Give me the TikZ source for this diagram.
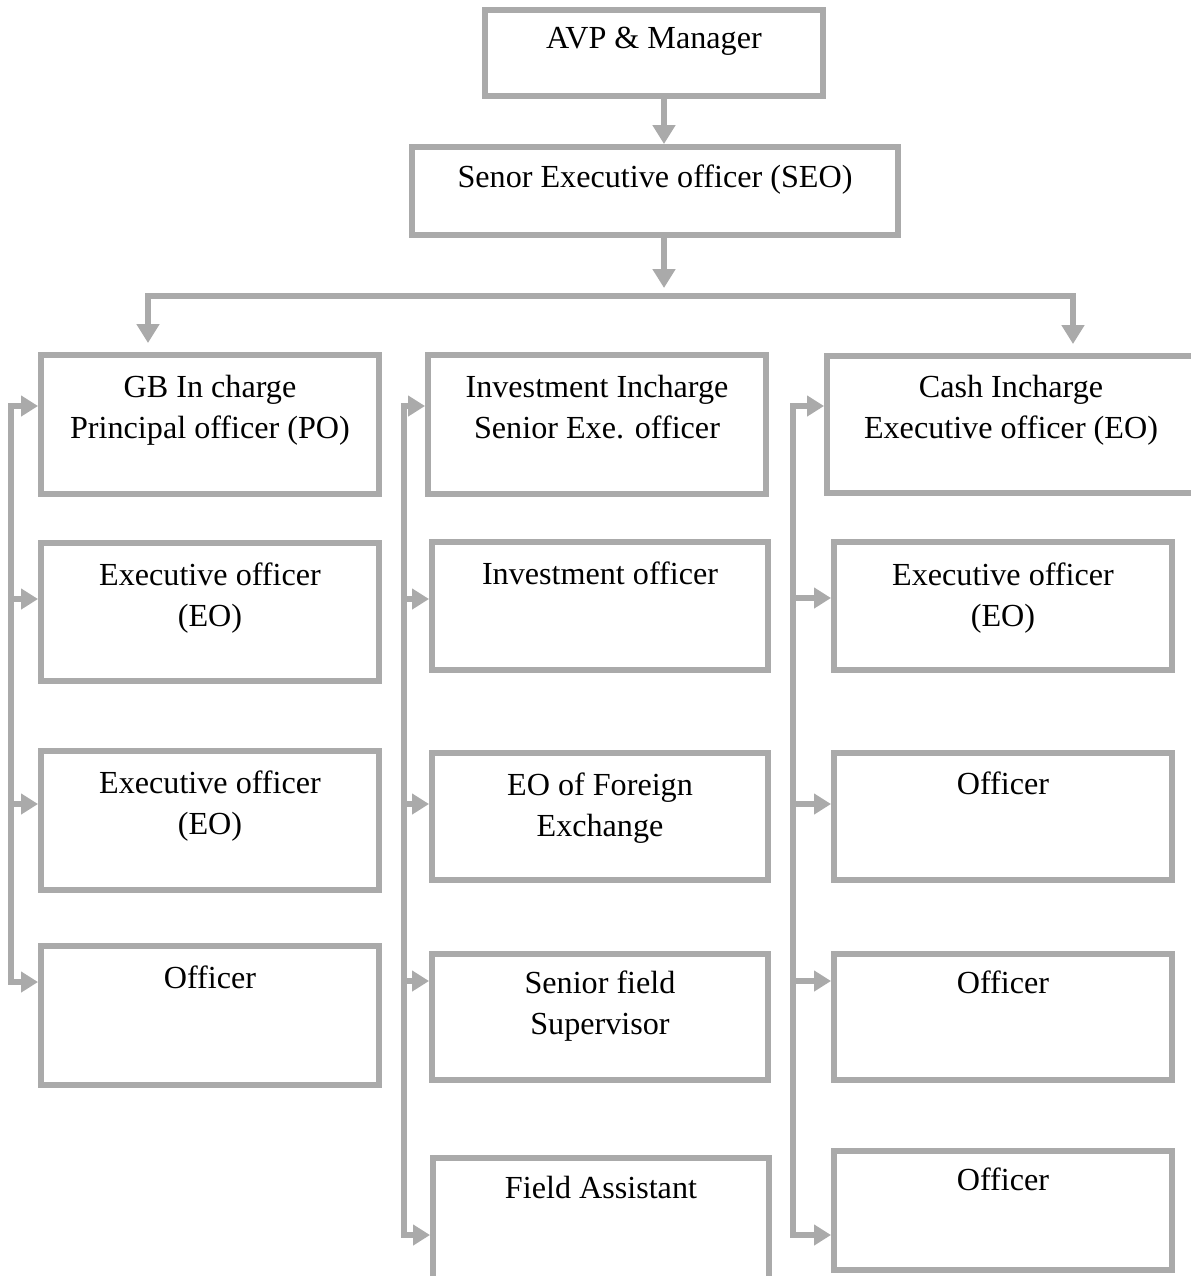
\documentclass[tikz,border=0pt]{standalone}
\usepackage{fontspec}
\setmainfont{Liberation Serif}
\usetikzlibrary{arrows.meta}
\definecolor{gr}{RGB}{170,170,170}
\begin{document}
\begin{tikzpicture}[x=0.02cm, y=-0.02cm,
  box/.style={draw=gr, line width=0.12cm, inner sep=0pt},
  txt/.style={font=\fontsize{18.3pt}{23.3pt}\selectfont, align=center, inner sep=0pt, anchor=base},
  conn/.style={draw=gr, line width=0.12cm},
  arr/.style={conn, -{Triangle[length=0.38cm, width=0.44cm]}},
  sarr/.style={conn, -{Triangle[length=0.34cm, width=0.40cm]}}]
\clip (0,0) rectangle (1191,1276);
\fill[white] (0,0) rectangle (1191,1276);
% boxes
\node[box, minimum width=6.76cm, minimum height=1.72cm] (avp) at (654,53) {};
\node[box, minimum width=9.72cm, minimum height=1.76cm] (seo) at (655,191) {};
\node[box, minimum width=6.76cm, minimum height=2.78cm] (gb) at (210,424.5) {};
\node[box, minimum width=6.76cm, minimum height=2.76cm] (eol1) at (210,612) {};
\node[box, minimum width=6.76cm, minimum height=2.78cm] (eol2) at (210,820.5) {};
\node[box, minimum width=6.76cm, minimum height=2.78cm] (offl) at (210,1015.5) {};
\node[box, minimum width=6.76cm, minimum height=2.78cm] (inv) at (597,424.5) {};
\node[box, minimum width=6.72cm, minimum height=2.56cm] (invoff) at (600,606) {};
\node[box, minimum width=6.72cm, minimum height=2.54cm] (eofx) at (600,816.5) {};
\node[box, minimum width=6.72cm, minimum height=2.52cm] (sfs) at (600,1017) {};
\node[box, minimum width=6.72cm, minimum height=2.80cm] (fa) at (601,1228) {};
\node[box, minimum width=7.36cm, minimum height=2.74cm] (cash) at (1011,424.5) {};
\node[box, minimum width=6.76cm, minimum height=2.56cm] (eor) at (1003,606) {};
\node[box, minimum width=6.76cm, minimum height=2.54cm] (offr1) at (1003,816.5) {};
\node[box, minimum width=6.76cm, minimum height=2.52cm] (offr2) at (1003,1017) {};
\node[box, minimum width=6.76cm, minimum height=2.38cm] (offr3) at (1003,1210.5) {};
% texts (base anchor = baseline of the last line)
\node[txt] (avpt) at ([yshift=-0.82cm]avp.north) {AVP \& Manager};
\node[txt] (seot) at ([yshift=-0.86cm]seo.north) {Senor Executive officer (SEO)};
\node[txt] (gbt) at ([yshift=-1.72cm]gb.north) {GB In charge\\Principal officer (PO)};
\node[txt] (eol1t) at ([yshift=-1.72cm]eol1.north) {Executive officer\\(EO)};
\node[txt] (eol2t) at ([yshift=-1.72cm]eol2.north) {Executive officer\\(EO)};
\node[txt] (offlt) at ([yshift=-0.90cm]offl.north) {Officer};
\node[txt] (invt) at ([yshift=-1.72cm]inv.north) {Investment Incharge\\Senior Exe. officer};
\node[txt] (invofft) at ([yshift=-0.90cm]invoff.north) {Investment officer};
\node[txt] (eofxt) at ([yshift=-1.72cm]eofx.north) {EO of Foreign\\Exchange};
\node[txt] (sfst) at ([yshift=-1.66cm]sfs.north) {Senior field\\Supervisor};
\node[txt] (fat) at ([yshift=-0.86cm]fa.north) {Field Assistant};
\node[txt] (casht) at ([yshift=-1.70cm]cash.north) {Cash Incharge\\Executive officer (EO)};
\node[txt] (eort) at ([yshift=-1.74cm]eor.north) {Executive officer\\(EO)};
\node[txt] (offr1t) at ([yshift=-0.88cm]offr1.north) {Officer};
\node[txt] (offr2t) at ([yshift=-0.84cm]offr2.north) {Officer};
\node[txt] (offr3t) at ([yshift=-0.84cm]offr3.north) {Officer};
% top connectors
\coordinate (busM) at (664,288);
\coordinate (busL) at (148,296);
\coordinate (busR) at (1073,296);
\draw[arr] ([xshift=0.2cm]avp.south) -- ([xshift=0.2cm]avp.south |- seo.north);
\draw[arr] (busM |- seo.south) -- (busM);
\draw[conn, line cap=rect] (busL) -- (busR);
\draw[arr, shorten >=0.18cm] (busL) -- (busL |- gb.north);
\draw[arr, shorten >=0.18cm] (busR) -- (busR |- cash.north);
% left bracket
\coordinate (L1) at (11,406);
\coordinate (L4) at (11,982);
\draw[conn, line cap=rect] (L1) -- (L4);
\draw[sarr] (L1) -- (L1 -| gb.west);
\draw[sarr] (L1 |- 0,599) -- (eol1.west |- 0,599);
\draw[sarr] (L1 |- 0,804) -- (eol2.west |- 0,804);
\draw[sarr] (L4) -- (L4 -| offl.west);
% middle bracket
\coordinate (M1) at (404,406);
\coordinate (M5) at (404,1235);
\draw[conn, line cap=rect] (M1) -- (M5);
\draw[sarr] (M1) -- (M1 -| inv.west);
\draw[sarr] (M1 |- 0,599) -- (invoff.west |- 0,599);
\draw[sarr] (M1 |- 0,804) -- (eofx.west |- 0,804);
\draw[sarr] (M1 |- 0,981) -- (sfs.west |- 0,981);
\draw[sarr] (M5) -- (M5 -| fa.west);
% right bracket
\coordinate (R1) at (793,406);
\coordinate (R5) at (793,1235);
\draw[conn, line cap=rect] (R1) -- (R5);
\draw[sarr] (R1) -- (R1 -| cash.west);
\draw[sarr] (R1 |- 0,598) -- (eor.west |- 0,598);
\draw[sarr] (R1 |- 0,804) -- (offr1.west |- 0,804);
\draw[sarr] (R1 |- 0,981) -- (offr2.west |- 0,981);
\draw[sarr] (R5) -- (R5 -| offr3.west);
\end{tikzpicture}
\end{document}
